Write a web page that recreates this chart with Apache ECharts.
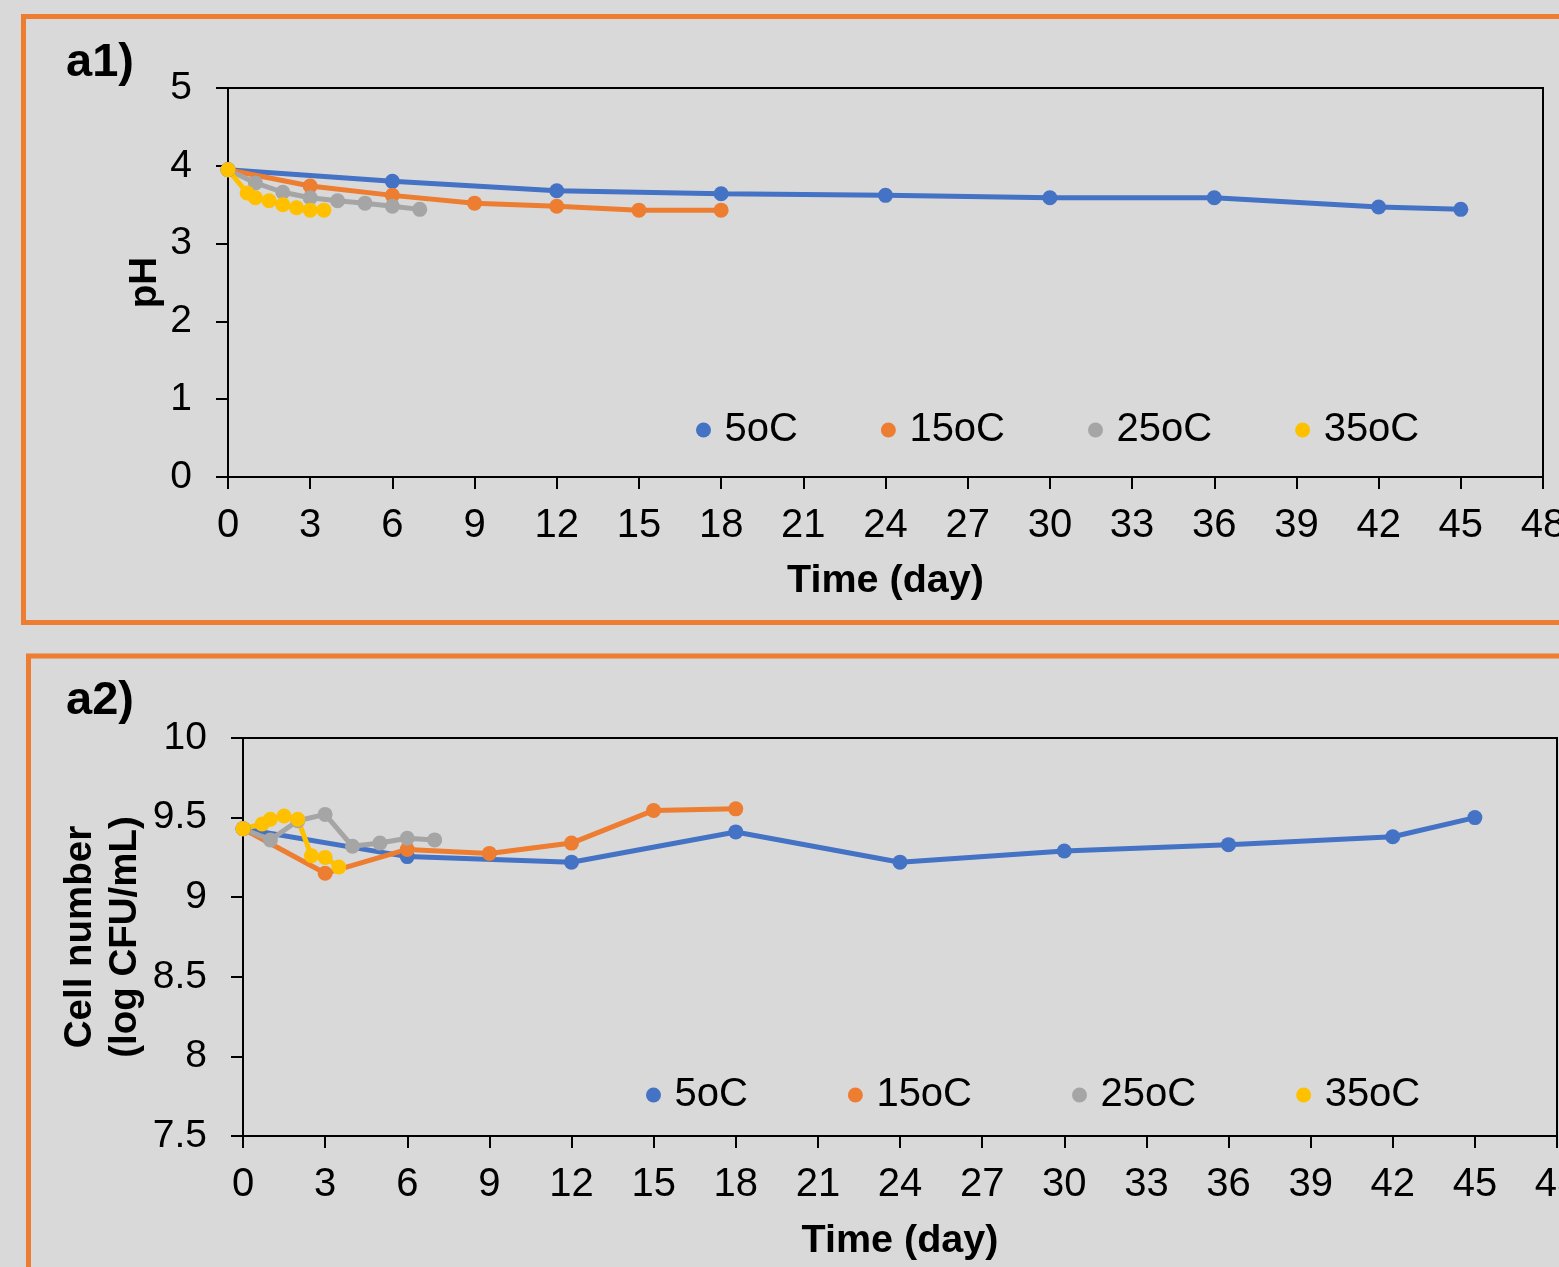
<!DOCTYPE html>
<html>
<head>
<meta charset="utf-8">
<script src="https://cdn.jsdelivr.net/npm/echarts@6/dist/echarts.min.js"></script>
<style>
html,body{margin:0;padding:0;background:#d9d9d9;}
#chart{width:1559px;height:1267px;}
</style>
</head>
<body>
<div id="chart"></div>
<script>
// ---- data ----
const seriesNames = ['5oC', '15oC', '25oC', '35oC'];
const xTicks = [0, 3, 6, 9, 12, 15, 18, 21, 24, 27, 30, 33, 36, 39, 42, 45, 48];

const days5 = [0, 6, 12, 18, 24, 30, 36, 42, 45];
const days15 = [0, 3, 6, 9, 12, 15, 18];
const days25 = [0, 1, 2, 3, 4, 5, 6, 7];
const days35 = [0, 0.7, 1, 1.5, 2, 2.5, 3, 3.5];

const pH5 = [3.95, 3.80, 3.68, 3.64, 3.62, 3.59, 3.59, 3.47, 3.44];
const pH15 = [3.95, 3.74, 3.62, 3.52, 3.48, 3.43, 3.43];
const pH25 = [3.95, 3.78, 3.66, 3.59, 3.55, 3.52, 3.48, 3.44];
const pH35 = [3.95, 3.65, 3.59, 3.55, 3.50, 3.46, 3.43, 3.43];

const cell5 = [9.43, 9.255, 9.22, 9.41, 9.22, 9.29, 9.33, 9.38, 9.50];
const cell15 = [9.43, 9.15, 9.30, 9.275, 9.34, 9.545, 9.555];
const cell25 = [9.43, 9.36, 9.48, 9.52, 9.32, 9.34, 9.37, 9.36];
const cell35 = [9.43, 9.46, 9.49, 9.51, 9.49, 9.26, 9.25, 9.19];

const pHTicks = [0, 1, 2, 3, 4, 5];
const cellTicks = [7.5, 8, 8.5, 9, 9.5, 10];

// ---- build ----
const colors = ['#4472C4', '#ED7D31', '#A5A5A5', '#FFC000'];
const FONT = '"Liberation Sans", Arial, sans-serif';
const zip = (xs, ys) => xs.map((x, i) => [x, ys[i]]);

const dayArr = [days5, days15, days25, days35];
const pHArr = [pH5, pH15, pH25, pH35];
const cellArr = [cell5, cell15, cell25, cell35];

function mkSeries(idx, vals) {
  return seriesNames.map((n, i) => ({
    name: n,
    type: 'line',
    xAxisIndex: idx,
    yAxisIndex: idx,
    data: zip(dayArr[i], vals[i]),
    symbol: 'circle',
    symbolSize: 15,
    showSymbol: true,
    color: colors[i],
    itemStyle: { color: colors[i] },
    lineStyle: { color: colors[i], width: 5 },
    emphasis: { disabled: true },
    animation: false
  }));
}

const axisCommon = {
  axisLine: { show: true, onZero: false, lineStyle: { color: '#000', width: 2 } },
  axisTick: { show: true, inside: false, length: 12, lineStyle: { color: '#000', width: 2 } },
  splitLine: { show: false },
  nameMoveOverlap: false
};

function xAxis(idx, gap) {
  return Object.assign({}, axisCommon, {
    type: 'value', gridIndex: idx,
    min: xTicks[0], max: xTicks[xTicks.length - 1], interval: xTicks[1] - xTicks[0],
    name: 'Time (day)', nameLocation: 'middle', nameGap: gap,
    nameTextStyle: { fontFamily: FONT, fontSize: 39.5, fontWeight: 'bold', color: '#000' },
    axisLabel: { fontFamily: FONT, fontSize: 40, color: '#000', margin: 29, showMinLabel: true, showMaxLabel: true, hideOverlap: false }
  });
}

function yAxis(idx, ticks, name, gap, lh) {
  return Object.assign({}, axisCommon, {
    type: 'value', gridIndex: idx,
    min: ticks[0], max: ticks[ticks.length - 1], interval: ticks[1] - ticks[0],
    name: name, nameLocation: 'middle', nameGap: gap, nameRotate: 90,
    nameTextStyle: { fontFamily: FONT, fontSize: 38.5, fontWeight: 'bold', color: '#000', lineHeight: lh },
    axisLabel: { fontFamily: FONT, fontSize: 39, color: '#000', margin: 36, showMinLabel: true, showMaxLabel: true, hideOverlap: false }
  });
}

function legend(left, top, gap) {
  return {
    data: seriesNames, left: left, top: top, padding: 0,
    orient: 'horizontal', icon: 'circle',
    itemWidth: 32, itemHeight: 15, itemGap: gap,
    textStyle: { fontFamily: FONT, fontSize: 40, color: '#000' },
    selectedMode: false
  };
}

const chart = echarts.init(document.getElementById('chart'), null, { renderer: 'canvas' });
chart.setOption({
  backgroundColor: '#d9d9d9',
  animation: false,
  graphic: [
    { type: 'rect', shape: { x: 23.5, y: 16.5, width: 1600, height: 606 }, style: { fill: null, stroke: '#ED7D31', lineWidth: 5 }, z: -1, silent: true },
    { type: 'rect', shape: { x: 28.5, y: 656, width: 1600, height: 700 }, style: { fill: null, stroke: '#ED7D31', lineWidth: 5 }, z: -1, silent: true },
    { type: 'text', left: 66, top: 40, style: { text: 'a1)', font: 'bold 47px ' + FONT, fill: '#000' } },
    { type: 'text', left: 66, top: 678, style: { text: 'a2)', font: 'bold 47px ' + FONT, fill: '#000' } }
  ],
  grid: [
    { left: 228, top: 88, right: 16, height: 389, show: true, borderColor: '#000', borderWidth: 2, backgroundColor: 'transparent', containLabel: false, outerBoundsMode: 'none' },
    { left: 243, top: 738, right: 2, height: 398, show: true, borderColor: '#000', borderWidth: 2, backgroundColor: 'transparent', containLabel: false, outerBoundsMode: 'none' }
  ],
  xAxis: [xAxis(0, 84), xAxis(1, 85)],
  yAxis: [
    yAxis(0, pHTicks, 'pH', 64, 38),
    yAxis(1, cellTicks, 'Cell number\n(log CFU/mL)', 95, 45)
  ],
  legend: [legend(696, 410, 83), legend(646, 1075, 100)],
  series: mkSeries(0, pHArr).concat(mkSeries(1, cellArr))
});
</script>
</body>
</html>
